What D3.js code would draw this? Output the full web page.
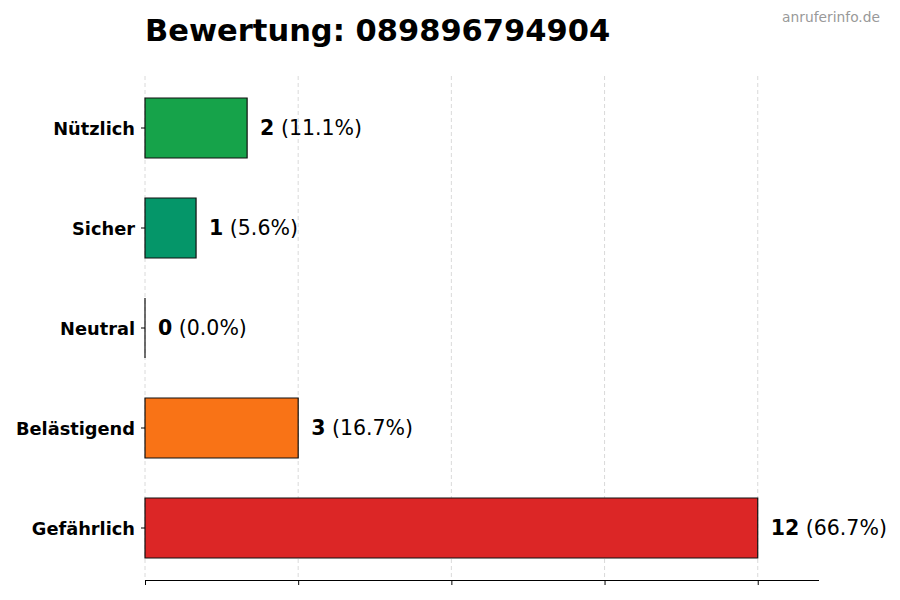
<!DOCTYPE html>
<html>
<head>
<meta charset="utf-8">
<script src="https://cdn.jsdelivr.net/npm/d3@7"></script>
<style>
  body { margin: 0; background: #fff; }
  svg { display: block; font-family: "DejaVu Sans", sans-serif; }
</style>
</head>
<body>
<svg id="chart"></svg>
<script>
// Bewertung chart
let width = 900, height = 600;

const categories = ["Nützlich", "Sicher", "Neutral", "Belästigend", "Gefährlich"];
const counts = [2, 1, 0, 3, 12];
const percents = ["11.1%", "5.6%", "0.0%", "16.7%", "66.7%"];
const barColors = ["#16a34a", "#059669", "#6b7280", "#f97316", "#dc2626"];
const xTicks = [0, 3, 6, 9, 12];

const rows = categories.map((c, i) => ({name: c, value: counts[i], pct: percents[i], color: barColors[i]}));

let svg = d3.select("#chart").attr("width", width).attr("height", height);

let plotLeft = 145, plotRight = 819, plotTop = 76, plotBottom = 580;

let x = d3.scaleLinear().domain([0, d3.max(counts) * 1.1]).range([plotLeft, plotRight]);
let y = d3.scaleBand().domain(categories).range([78, 578]).paddingInner(0.4).paddingOuter(0.2);

// grid
svg.append("g")
  .selectAll("line")
  .data(xTicks)
  .enter()
  .append("line")
  .attr("x1", d => x(d)).attr("x2", d => x(d))
  .attr("y1", plotTop).attr("y2", plotBottom)
  .attr("stroke", "#d0d0d0")
  .attr("stroke-width", 0.8)
  .attr("stroke-dasharray", "4,3");

// bars (drawn as paths so a zero bar still shows its edge)
svg.append("g")
  .selectAll("path")
  .data(rows)
  .enter()
  .append("path")
  .attr("d", d => {
    let x0 = x(0), x1 = x(d.value), y0 = y(d.name), y1 = y0 + y.bandwidth();
    return `M${x0},${y0}H${x1}V${y1}H${x0}Z`;
  })
  .attr("fill", d => d.color)
  .attr("stroke", "#111")
  .attr("stroke-width", 1.2);

// value labels
let labels = svg.append("g")
  .selectAll("text")
  .data(rows)
  .enter()
  .append("text")
  .attr("x", d => x(d.value) + 13)
  .attr("y", d => y(d.name) + y.bandwidth() / 2)
  .attr("dy", "0.35em")
  .attr("font-size", 20.5)
  .attr("fill", "#000");
labels.append("tspan").attr("font-weight", "bold").text(d => d.value);
labels.append("tspan").text(d => " (" + d.pct + ")");

// y axis (no spine)
let yAxis = svg.append("g")
  .attr("transform", `translate(${plotLeft},0)`)
  .call(d3.axisLeft(y).tickSize(4).tickPadding(6));
yAxis.select(".domain").remove();
yAxis.selectAll("text")
  .attr("font-size", 17.8)
  .attr("font-weight", "bold")
  .attr("font-family", "DejaVu Sans")
  .attr("dy", "0.42em")
  .attr("fill", "#000");

// x axis: ticks only, no labels
let xAxis = svg.append("g")
  .attr("transform", `translate(0,${plotBottom})`)
  .call(d3.axisBottom(x).tickValues(xTicks).tickSize(5).tickFormat(""));
xAxis.select(".domain").attr("d", `M${plotLeft},0.5H${plotRight}`).attr("stroke", "#000");

// title
svg.append("text")
  .attr("x", plotLeft)
  .attr("y", 41)
  .attr("font-size", 30.5)
  .attr("font-weight", "bold")
  .attr("fill", "#000")
  .text("Bewertung: 089896794904");

svg.append("text")
  .attr("x", 880)
  .attr("y", 22)
  .attr("text-anchor", "end")
  .attr("font-size", 13.8)
  .attr("fill", "#999")
  .text("anruferinfo.de");
</script>
</body>
</html>
